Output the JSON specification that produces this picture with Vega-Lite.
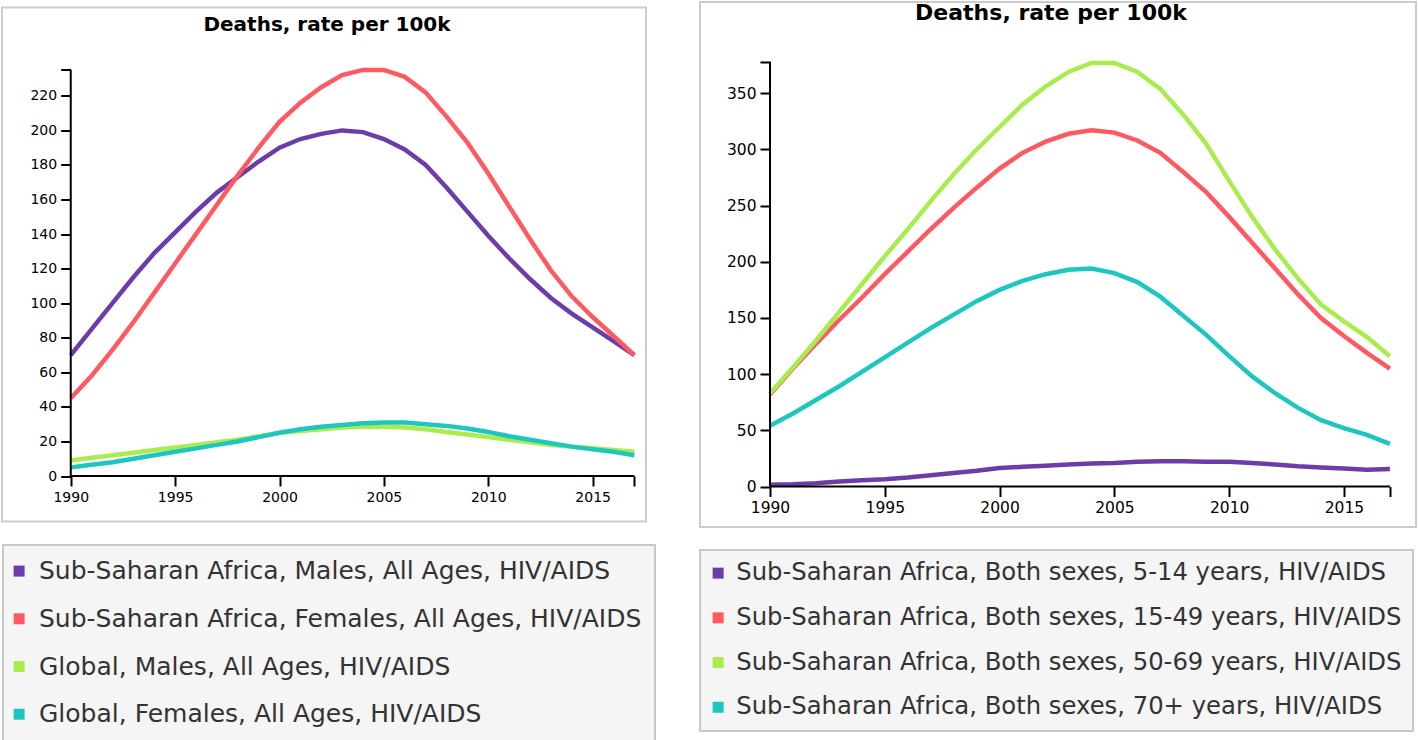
{
 "$schema": "https://vega.github.io/schema/vega-lite/v6.json",
 "autosize": {"type": "pad"},
 "padding": {"left": 1, "top": 1, "right": 0, "bottom": 0},
 "background": "white",
 "bounds": "flush",
 "center": true,
 "spacing": 54,
 "config": {
  "view": {"stroke": "#cccccc", "strokeWidth": 2},
  "axis": {"domain": false, "grid": false, "ticks": true, "tickColor": "#000", "tickWidth": 2, "tickSize": 10, "labelFont": "DejaVu Sans", "labelColor": "#000", "labelPadding": 4},
  "title": {"font": "DejaVu Sans", "fontWeight": "bold", "color": "#000", "anchor": "middle", "baseline": "alphabetic", "offset": 0, "frame": "group"},
  "legend": {"fillColor": "#f5f5f5", "strokeColor": "#c8c8c8", "strokeWidth": 2, "symbolType": "square", "symbolSize": 121, "symbolStrokeWidth": 0, "labelFont": "DejaVu Sans", "labelColor": "#333", "labelLimit": 2000, "direction": "vertical", "orient": "none"}
 },
 "resolve": {"scale": {"color": "independent", "x": "independent", "y": "independent"}, "legend": {"color": "independent"}},
 "datasets": {
  "L": [
   {"yr":1990,"v":70,"s":"Sub-Saharan Africa, Males, All Ages, HIV/AIDS"},{"yr":1991,"v":85,"s":"Sub-Saharan Africa, Males, All Ages, HIV/AIDS"},{"yr":1992,"v":100,"s":"Sub-Saharan Africa, Males, All Ages, HIV/AIDS"},{"yr":1993,"v":115,"s":"Sub-Saharan Africa, Males, All Ages, HIV/AIDS"},{"yr":1994,"v":129,"s":"Sub-Saharan Africa, Males, All Ages, HIV/AIDS"},{"yr":1995,"v":141,"s":"Sub-Saharan Africa, Males, All Ages, HIV/AIDS"},{"yr":1996,"v":153,"s":"Sub-Saharan Africa, Males, All Ages, HIV/AIDS"},{"yr":1997,"v":164,"s":"Sub-Saharan Africa, Males, All Ages, HIV/AIDS"},{"yr":1998,"v":173,"s":"Sub-Saharan Africa, Males, All Ages, HIV/AIDS"},{"yr":1999,"v":182,"s":"Sub-Saharan Africa, Males, All Ages, HIV/AIDS"},{"yr":2000,"v":190,"s":"Sub-Saharan Africa, Males, All Ages, HIV/AIDS"},{"yr":2001,"v":195,"s":"Sub-Saharan Africa, Males, All Ages, HIV/AIDS"},{"yr":2002,"v":198,"s":"Sub-Saharan Africa, Males, All Ages, HIV/AIDS"},{"yr":2003,"v":200,"s":"Sub-Saharan Africa, Males, All Ages, HIV/AIDS"},{"yr":2004,"v":199,"s":"Sub-Saharan Africa, Males, All Ages, HIV/AIDS"},{"yr":2005,"v":195,"s":"Sub-Saharan Africa, Males, All Ages, HIV/AIDS"},{"yr":2006,"v":189,"s":"Sub-Saharan Africa, Males, All Ages, HIV/AIDS"},{"yr":2007,"v":180,"s":"Sub-Saharan Africa, Males, All Ages, HIV/AIDS"},{"yr":2008,"v":167,"s":"Sub-Saharan Africa, Males, All Ages, HIV/AIDS"},{"yr":2009,"v":153,"s":"Sub-Saharan Africa, Males, All Ages, HIV/AIDS"},{"yr":2010,"v":139,"s":"Sub-Saharan Africa, Males, All Ages, HIV/AIDS"},{"yr":2011,"v":126,"s":"Sub-Saharan Africa, Males, All Ages, HIV/AIDS"},{"yr":2012,"v":114,"s":"Sub-Saharan Africa, Males, All Ages, HIV/AIDS"},{"yr":2013,"v":103,"s":"Sub-Saharan Africa, Males, All Ages, HIV/AIDS"},{"yr":2014,"v":94,"s":"Sub-Saharan Africa, Males, All Ages, HIV/AIDS"},{"yr":2015,"v":86,"s":"Sub-Saharan Africa, Males, All Ages, HIV/AIDS"},{"yr":2016,"v":78,"s":"Sub-Saharan Africa, Males, All Ages, HIV/AIDS"},{"yr":2017,"v":70,"s":"Sub-Saharan Africa, Males, All Ages, HIV/AIDS"},
   {"yr":1990,"v":45,"s":"Sub-Saharan Africa, Females, All Ages, HIV/AIDS"},{"yr":1991,"v":58,"s":"Sub-Saharan Africa, Females, All Ages, HIV/AIDS"},{"yr":1992,"v":73,"s":"Sub-Saharan Africa, Females, All Ages, HIV/AIDS"},{"yr":1993,"v":89,"s":"Sub-Saharan Africa, Females, All Ages, HIV/AIDS"},{"yr":1994,"v":106,"s":"Sub-Saharan Africa, Females, All Ages, HIV/AIDS"},{"yr":1995,"v":123,"s":"Sub-Saharan Africa, Females, All Ages, HIV/AIDS"},{"yr":1996,"v":140,"s":"Sub-Saharan Africa, Females, All Ages, HIV/AIDS"},{"yr":1997,"v":157,"s":"Sub-Saharan Africa, Females, All Ages, HIV/AIDS"},{"yr":1998,"v":174,"s":"Sub-Saharan Africa, Females, All Ages, HIV/AIDS"},{"yr":1999,"v":190,"s":"Sub-Saharan Africa, Females, All Ages, HIV/AIDS"},{"yr":2000,"v":205,"s":"Sub-Saharan Africa, Females, All Ages, HIV/AIDS"},{"yr":2001,"v":216,"s":"Sub-Saharan Africa, Females, All Ages, HIV/AIDS"},{"yr":2002,"v":225,"s":"Sub-Saharan Africa, Females, All Ages, HIV/AIDS"},{"yr":2003,"v":232,"s":"Sub-Saharan Africa, Females, All Ages, HIV/AIDS"},{"yr":2004,"v":235,"s":"Sub-Saharan Africa, Females, All Ages, HIV/AIDS"},{"yr":2005,"v":235,"s":"Sub-Saharan Africa, Females, All Ages, HIV/AIDS"},{"yr":2006,"v":231,"s":"Sub-Saharan Africa, Females, All Ages, HIV/AIDS"},{"yr":2007,"v":222,"s":"Sub-Saharan Africa, Females, All Ages, HIV/AIDS"},{"yr":2008,"v":208,"s":"Sub-Saharan Africa, Females, All Ages, HIV/AIDS"},{"yr":2009,"v":193,"s":"Sub-Saharan Africa, Females, All Ages, HIV/AIDS"},{"yr":2010,"v":175,"s":"Sub-Saharan Africa, Females, All Ages, HIV/AIDS"},{"yr":2011,"v":156,"s":"Sub-Saharan Africa, Females, All Ages, HIV/AIDS"},{"yr":2012,"v":137,"s":"Sub-Saharan Africa, Females, All Ages, HIV/AIDS"},{"yr":2013,"v":119,"s":"Sub-Saharan Africa, Females, All Ages, HIV/AIDS"},{"yr":2014,"v":104,"s":"Sub-Saharan Africa, Females, All Ages, HIV/AIDS"},{"yr":2015,"v":92,"s":"Sub-Saharan Africa, Females, All Ages, HIV/AIDS"},{"yr":2016,"v":81,"s":"Sub-Saharan Africa, Females, All Ages, HIV/AIDS"},{"yr":2017,"v":70,"s":"Sub-Saharan Africa, Females, All Ages, HIV/AIDS"},
   {"yr":1990,"v":9,"s":"Global, Males, All Ages, HIV/AIDS"},{"yr":1991,"v":10.5,"s":"Global, Males, All Ages, HIV/AIDS"},{"yr":1992,"v":12,"s":"Global, Males, All Ages, HIV/AIDS"},{"yr":1993,"v":13.5,"s":"Global, Males, All Ages, HIV/AIDS"},{"yr":1994,"v":15,"s":"Global, Males, All Ages, HIV/AIDS"},{"yr":1995,"v":16.5,"s":"Global, Males, All Ages, HIV/AIDS"},{"yr":1996,"v":18,"s":"Global, Males, All Ages, HIV/AIDS"},{"yr":1997,"v":19.5,"s":"Global, Males, All Ages, HIV/AIDS"},{"yr":1998,"v":21,"s":"Global, Males, All Ages, HIV/AIDS"},{"yr":1999,"v":23,"s":"Global, Males, All Ages, HIV/AIDS"},{"yr":2000,"v":25,"s":"Global, Males, All Ages, HIV/AIDS"},{"yr":2001,"v":26,"s":"Global, Males, All Ages, HIV/AIDS"},{"yr":2002,"v":27,"s":"Global, Males, All Ages, HIV/AIDS"},{"yr":2003,"v":28,"s":"Global, Males, All Ages, HIV/AIDS"},{"yr":2004,"v":28.5,"s":"Global, Males, All Ages, HIV/AIDS"},{"yr":2005,"v":28.5,"s":"Global, Males, All Ages, HIV/AIDS"},{"yr":2006,"v":28,"s":"Global, Males, All Ages, HIV/AIDS"},{"yr":2007,"v":27,"s":"Global, Males, All Ages, HIV/AIDS"},{"yr":2008,"v":25.5,"s":"Global, Males, All Ages, HIV/AIDS"},{"yr":2009,"v":24,"s":"Global, Males, All Ages, HIV/AIDS"},{"yr":2010,"v":22.5,"s":"Global, Males, All Ages, HIV/AIDS"},{"yr":2011,"v":21,"s":"Global, Males, All Ages, HIV/AIDS"},{"yr":2012,"v":19.5,"s":"Global, Males, All Ages, HIV/AIDS"},{"yr":2013,"v":18,"s":"Global, Males, All Ages, HIV/AIDS"},{"yr":2014,"v":17,"s":"Global, Males, All Ages, HIV/AIDS"},{"yr":2015,"v":16,"s":"Global, Males, All Ages, HIV/AIDS"},{"yr":2016,"v":15,"s":"Global, Males, All Ages, HIV/AIDS"},{"yr":2017,"v":14,"s":"Global, Males, All Ages, HIV/AIDS"},
   {"yr":1990,"v":5,"s":"Global, Females, All Ages, HIV/AIDS"},{"yr":1991,"v":6.5,"s":"Global, Females, All Ages, HIV/AIDS"},{"yr":1992,"v":8,"s":"Global, Females, All Ages, HIV/AIDS"},{"yr":1993,"v":10,"s":"Global, Females, All Ages, HIV/AIDS"},{"yr":1994,"v":12,"s":"Global, Females, All Ages, HIV/AIDS"},{"yr":1995,"v":14,"s":"Global, Females, All Ages, HIV/AIDS"},{"yr":1996,"v":16,"s":"Global, Females, All Ages, HIV/AIDS"},{"yr":1997,"v":18,"s":"Global, Females, All Ages, HIV/AIDS"},{"yr":1998,"v":20,"s":"Global, Females, All Ages, HIV/AIDS"},{"yr":1999,"v":22.5,"s":"Global, Females, All Ages, HIV/AIDS"},{"yr":2000,"v":25,"s":"Global, Females, All Ages, HIV/AIDS"},{"yr":2001,"v":27,"s":"Global, Females, All Ages, HIV/AIDS"},{"yr":2002,"v":28.5,"s":"Global, Females, All Ages, HIV/AIDS"},{"yr":2003,"v":29.5,"s":"Global, Females, All Ages, HIV/AIDS"},{"yr":2004,"v":30.5,"s":"Global, Females, All Ages, HIV/AIDS"},{"yr":2005,"v":31,"s":"Global, Females, All Ages, HIV/AIDS"},{"yr":2006,"v":31,"s":"Global, Females, All Ages, HIV/AIDS"},{"yr":2007,"v":30,"s":"Global, Females, All Ages, HIV/AIDS"},{"yr":2008,"v":29,"s":"Global, Females, All Ages, HIV/AIDS"},{"yr":2009,"v":27.5,"s":"Global, Females, All Ages, HIV/AIDS"},{"yr":2010,"v":25.5,"s":"Global, Females, All Ages, HIV/AIDS"},{"yr":2011,"v":23,"s":"Global, Females, All Ages, HIV/AIDS"},{"yr":2012,"v":21,"s":"Global, Females, All Ages, HIV/AIDS"},{"yr":2013,"v":19,"s":"Global, Females, All Ages, HIV/AIDS"},{"yr":2014,"v":17,"s":"Global, Females, All Ages, HIV/AIDS"},{"yr":2015,"v":15.5,"s":"Global, Females, All Ages, HIV/AIDS"},{"yr":2016,"v":14,"s":"Global, Females, All Ages, HIV/AIDS"},{"yr":2017,"v":12,"s":"Global, Females, All Ages, HIV/AIDS"}
  ],
  "R": [
   {"yr":1990,"v":1.5,"s":"Sub-Saharan Africa, Both sexes, 5-14 years, HIV/AIDS"},{"yr":1991,"v":2,"s":"Sub-Saharan Africa, Both sexes, 5-14 years, HIV/AIDS"},{"yr":1992,"v":3,"s":"Sub-Saharan Africa, Both sexes, 5-14 years, HIV/AIDS"},{"yr":1993,"v":4.5,"s":"Sub-Saharan Africa, Both sexes, 5-14 years, HIV/AIDS"},{"yr":1994,"v":5.5,"s":"Sub-Saharan Africa, Both sexes, 5-14 years, HIV/AIDS"},{"yr":1995,"v":6.5,"s":"Sub-Saharan Africa, Both sexes, 5-14 years, HIV/AIDS"},{"yr":1996,"v":8,"s":"Sub-Saharan Africa, Both sexes, 5-14 years, HIV/AIDS"},{"yr":1997,"v":10,"s":"Sub-Saharan Africa, Both sexes, 5-14 years, HIV/AIDS"},{"yr":1998,"v":12,"s":"Sub-Saharan Africa, Both sexes, 5-14 years, HIV/AIDS"},{"yr":1999,"v":14,"s":"Sub-Saharan Africa, Both sexes, 5-14 years, HIV/AIDS"},{"yr":2000,"v":16.5,"s":"Sub-Saharan Africa, Both sexes, 5-14 years, HIV/AIDS"},{"yr":2001,"v":17.5,"s":"Sub-Saharan Africa, Both sexes, 5-14 years, HIV/AIDS"},{"yr":2002,"v":18.5,"s":"Sub-Saharan Africa, Both sexes, 5-14 years, HIV/AIDS"},{"yr":2003,"v":19.5,"s":"Sub-Saharan Africa, Both sexes, 5-14 years, HIV/AIDS"},{"yr":2004,"v":20.5,"s":"Sub-Saharan Africa, Both sexes, 5-14 years, HIV/AIDS"},{"yr":2005,"v":21,"s":"Sub-Saharan Africa, Both sexes, 5-14 years, HIV/AIDS"},{"yr":2006,"v":22,"s":"Sub-Saharan Africa, Both sexes, 5-14 years, HIV/AIDS"},{"yr":2007,"v":22.5,"s":"Sub-Saharan Africa, Both sexes, 5-14 years, HIV/AIDS"},{"yr":2008,"v":22.5,"s":"Sub-Saharan Africa, Both sexes, 5-14 years, HIV/AIDS"},{"yr":2009,"v":22,"s":"Sub-Saharan Africa, Both sexes, 5-14 years, HIV/AIDS"},{"yr":2010,"v":22,"s":"Sub-Saharan Africa, Both sexes, 5-14 years, HIV/AIDS"},{"yr":2011,"v":21,"s":"Sub-Saharan Africa, Both sexes, 5-14 years, HIV/AIDS"},{"yr":2012,"v":19.5,"s":"Sub-Saharan Africa, Both sexes, 5-14 years, HIV/AIDS"},{"yr":2013,"v":18,"s":"Sub-Saharan Africa, Both sexes, 5-14 years, HIV/AIDS"},{"yr":2014,"v":17,"s":"Sub-Saharan Africa, Both sexes, 5-14 years, HIV/AIDS"},{"yr":2015,"v":16,"s":"Sub-Saharan Africa, Both sexes, 5-14 years, HIV/AIDS"},{"yr":2016,"v":15,"s":"Sub-Saharan Africa, Both sexes, 5-14 years, HIV/AIDS"},{"yr":2017,"v":15.5,"s":"Sub-Saharan Africa, Both sexes, 5-14 years, HIV/AIDS"},
   {"yr":1990,"v":82,"s":"Sub-Saharan Africa, Both sexes, 15-49 years, HIV/AIDS"},{"yr":1991,"v":105,"s":"Sub-Saharan Africa, Both sexes, 15-49 years, HIV/AIDS"},{"yr":1992,"v":127,"s":"Sub-Saharan Africa, Both sexes, 15-49 years, HIV/AIDS"},{"yr":1993,"v":148,"s":"Sub-Saharan Africa, Both sexes, 15-49 years, HIV/AIDS"},{"yr":1994,"v":168,"s":"Sub-Saharan Africa, Both sexes, 15-49 years, HIV/AIDS"},{"yr":1995,"v":189,"s":"Sub-Saharan Africa, Both sexes, 15-49 years, HIV/AIDS"},{"yr":1996,"v":209,"s":"Sub-Saharan Africa, Both sexes, 15-49 years, HIV/AIDS"},{"yr":1997,"v":229,"s":"Sub-Saharan Africa, Both sexes, 15-49 years, HIV/AIDS"},{"yr":1998,"v":248,"s":"Sub-Saharan Africa, Both sexes, 15-49 years, HIV/AIDS"},{"yr":1999,"v":266,"s":"Sub-Saharan Africa, Both sexes, 15-49 years, HIV/AIDS"},{"yr":2000,"v":283,"s":"Sub-Saharan Africa, Both sexes, 15-49 years, HIV/AIDS"},{"yr":2001,"v":297,"s":"Sub-Saharan Africa, Both sexes, 15-49 years, HIV/AIDS"},{"yr":2002,"v":307,"s":"Sub-Saharan Africa, Both sexes, 15-49 years, HIV/AIDS"},{"yr":2003,"v":314,"s":"Sub-Saharan Africa, Both sexes, 15-49 years, HIV/AIDS"},{"yr":2004,"v":317,"s":"Sub-Saharan Africa, Both sexes, 15-49 years, HIV/AIDS"},{"yr":2005,"v":315,"s":"Sub-Saharan Africa, Both sexes, 15-49 years, HIV/AIDS"},{"yr":2006,"v":308,"s":"Sub-Saharan Africa, Both sexes, 15-49 years, HIV/AIDS"},{"yr":2007,"v":297,"s":"Sub-Saharan Africa, Both sexes, 15-49 years, HIV/AIDS"},{"yr":2008,"v":280,"s":"Sub-Saharan Africa, Both sexes, 15-49 years, HIV/AIDS"},{"yr":2009,"v":262,"s":"Sub-Saharan Africa, Both sexes, 15-49 years, HIV/AIDS"},{"yr":2010,"v":240,"s":"Sub-Saharan Africa, Both sexes, 15-49 years, HIV/AIDS"},{"yr":2011,"v":217,"s":"Sub-Saharan Africa, Both sexes, 15-49 years, HIV/AIDS"},{"yr":2012,"v":194,"s":"Sub-Saharan Africa, Both sexes, 15-49 years, HIV/AIDS"},{"yr":2013,"v":171,"s":"Sub-Saharan Africa, Both sexes, 15-49 years, HIV/AIDS"},{"yr":2014,"v":150,"s":"Sub-Saharan Africa, Both sexes, 15-49 years, HIV/AIDS"},{"yr":2015,"v":134,"s":"Sub-Saharan Africa, Both sexes, 15-49 years, HIV/AIDS"},{"yr":2016,"v":119,"s":"Sub-Saharan Africa, Both sexes, 15-49 years, HIV/AIDS"},{"yr":2017,"v":105,"s":"Sub-Saharan Africa, Both sexes, 15-49 years, HIV/AIDS"},
   {"yr":1990,"v":83,"s":"Sub-Saharan Africa, Both sexes, 50-69 years, HIV/AIDS"},{"yr":1991,"v":106,"s":"Sub-Saharan Africa, Both sexes, 50-69 years, HIV/AIDS"},{"yr":1992,"v":130,"s":"Sub-Saharan Africa, Both sexes, 50-69 years, HIV/AIDS"},{"yr":1993,"v":155,"s":"Sub-Saharan Africa, Both sexes, 50-69 years, HIV/AIDS"},{"yr":1994,"v":180,"s":"Sub-Saharan Africa, Both sexes, 50-69 years, HIV/AIDS"},{"yr":1995,"v":205,"s":"Sub-Saharan Africa, Both sexes, 50-69 years, HIV/AIDS"},{"yr":1996,"v":229,"s":"Sub-Saharan Africa, Both sexes, 50-69 years, HIV/AIDS"},{"yr":1997,"v":254,"s":"Sub-Saharan Africa, Both sexes, 50-69 years, HIV/AIDS"},{"yr":1998,"v":278,"s":"Sub-Saharan Africa, Both sexes, 50-69 years, HIV/AIDS"},{"yr":1999,"v":300,"s":"Sub-Saharan Africa, Both sexes, 50-69 years, HIV/AIDS"},{"yr":2000,"v":320,"s":"Sub-Saharan Africa, Both sexes, 50-69 years, HIV/AIDS"},{"yr":2001,"v":340,"s":"Sub-Saharan Africa, Both sexes, 50-69 years, HIV/AIDS"},{"yr":2002,"v":356,"s":"Sub-Saharan Africa, Both sexes, 50-69 years, HIV/AIDS"},{"yr":2003,"v":369,"s":"Sub-Saharan Africa, Both sexes, 50-69 years, HIV/AIDS"},{"yr":2004,"v":377,"s":"Sub-Saharan Africa, Both sexes, 50-69 years, HIV/AIDS"},{"yr":2005,"v":377,"s":"Sub-Saharan Africa, Both sexes, 50-69 years, HIV/AIDS"},{"yr":2006,"v":369,"s":"Sub-Saharan Africa, Both sexes, 50-69 years, HIV/AIDS"},{"yr":2007,"v":354,"s":"Sub-Saharan Africa, Both sexes, 50-69 years, HIV/AIDS"},{"yr":2008,"v":331,"s":"Sub-Saharan Africa, Both sexes, 50-69 years, HIV/AIDS"},{"yr":2009,"v":305,"s":"Sub-Saharan Africa, Both sexes, 50-69 years, HIV/AIDS"},{"yr":2010,"v":272,"s":"Sub-Saharan Africa, Both sexes, 50-69 years, HIV/AIDS"},{"yr":2011,"v":240,"s":"Sub-Saharan Africa, Both sexes, 50-69 years, HIV/AIDS"},{"yr":2012,"v":211,"s":"Sub-Saharan Africa, Both sexes, 50-69 years, HIV/AIDS"},{"yr":2013,"v":185,"s":"Sub-Saharan Africa, Both sexes, 50-69 years, HIV/AIDS"},{"yr":2014,"v":162,"s":"Sub-Saharan Africa, Both sexes, 50-69 years, HIV/AIDS"},{"yr":2015,"v":147,"s":"Sub-Saharan Africa, Both sexes, 50-69 years, HIV/AIDS"},{"yr":2016,"v":133,"s":"Sub-Saharan Africa, Both sexes, 50-69 years, HIV/AIDS"},{"yr":2017,"v":116,"s":"Sub-Saharan Africa, Both sexes, 50-69 years, HIV/AIDS"},
   {"yr":1990,"v":54,"s":"Sub-Saharan Africa, Both sexes, 70+ years, HIV/AIDS"},{"yr":1991,"v":65,"s":"Sub-Saharan Africa, Both sexes, 70+ years, HIV/AIDS"},{"yr":1992,"v":77,"s":"Sub-Saharan Africa, Both sexes, 70+ years, HIV/AIDS"},{"yr":1993,"v":89,"s":"Sub-Saharan Africa, Both sexes, 70+ years, HIV/AIDS"},{"yr":1994,"v":102,"s":"Sub-Saharan Africa, Both sexes, 70+ years, HIV/AIDS"},{"yr":1995,"v":115,"s":"Sub-Saharan Africa, Both sexes, 70+ years, HIV/AIDS"},{"yr":1996,"v":128,"s":"Sub-Saharan Africa, Both sexes, 70+ years, HIV/AIDS"},{"yr":1997,"v":141,"s":"Sub-Saharan Africa, Both sexes, 70+ years, HIV/AIDS"},{"yr":1998,"v":153,"s":"Sub-Saharan Africa, Both sexes, 70+ years, HIV/AIDS"},{"yr":1999,"v":165,"s":"Sub-Saharan Africa, Both sexes, 70+ years, HIV/AIDS"},{"yr":2000,"v":175,"s":"Sub-Saharan Africa, Both sexes, 70+ years, HIV/AIDS"},{"yr":2001,"v":183,"s":"Sub-Saharan Africa, Both sexes, 70+ years, HIV/AIDS"},{"yr":2002,"v":189,"s":"Sub-Saharan Africa, Both sexes, 70+ years, HIV/AIDS"},{"yr":2003,"v":193,"s":"Sub-Saharan Africa, Both sexes, 70+ years, HIV/AIDS"},{"yr":2004,"v":194,"s":"Sub-Saharan Africa, Both sexes, 70+ years, HIV/AIDS"},{"yr":2005,"v":190,"s":"Sub-Saharan Africa, Both sexes, 70+ years, HIV/AIDS"},{"yr":2006,"v":182,"s":"Sub-Saharan Africa, Both sexes, 70+ years, HIV/AIDS"},{"yr":2007,"v":169,"s":"Sub-Saharan Africa, Both sexes, 70+ years, HIV/AIDS"},{"yr":2008,"v":152,"s":"Sub-Saharan Africa, Both sexes, 70+ years, HIV/AIDS"},{"yr":2009,"v":135,"s":"Sub-Saharan Africa, Both sexes, 70+ years, HIV/AIDS"},{"yr":2010,"v":116,"s":"Sub-Saharan Africa, Both sexes, 70+ years, HIV/AIDS"},{"yr":2011,"v":98,"s":"Sub-Saharan Africa, Both sexes, 70+ years, HIV/AIDS"},{"yr":2012,"v":83,"s":"Sub-Saharan Africa, Both sexes, 70+ years, HIV/AIDS"},{"yr":2013,"v":70,"s":"Sub-Saharan Africa, Both sexes, 70+ years, HIV/AIDS"},{"yr":2014,"v":59,"s":"Sub-Saharan Africa, Both sexes, 70+ years, HIV/AIDS"},{"yr":2015,"v":52,"s":"Sub-Saharan Africa, Both sexes, 70+ years, HIV/AIDS"},{"yr":2016,"v":46,"s":"Sub-Saharan Africa, Both sexes, 70+ years, HIV/AIDS"},{"yr":2017,"v":38,"s":"Sub-Saharan Africa, Both sexes, 70+ years, HIV/AIDS"}
  ]
 },
 "hconcat": [
  {
   "width": 644,
   "height": 514,
   "title": {"text": "Deaths, rate per 100k", "fontSize": 20, "dy": 31, "dx": 3},
   "layer": [
    {
     "data": {"name": "L"},
     "mark": {"type": "line", "strokeWidth": 4.5},
     "encoding": {
      "x": {"field": "yr", "type": "quantitative", "scale": {"domain": [1986.707, 2017.556], "nice": false, "zero": false}, "axis": {"title": null, "offset": -45.5, "values": [1990, 1995, 2000, 2005, 2010, 2015, 2017], "format": "d", "labelExpr": "datum.value == 2017 ? '' : datum.label", "labelFontSize": 14, "labelFlush": false}},
      "y": {"field": "v", "type": "quantitative", "scale": {"domain": [-26.33, 271.12], "nice": false, "zero": false}, "axis": {"title": null, "offset": -68.7, "values": [0, 20, 40, 60, 80, 100, 120, 140, 160, 180, 200, 220, 235], "labelExpr": "datum.value == 235 ? '' : datum.label", "labelFontSize": 14}},
      "color": {"field": "s", "type": "nominal", "scale": {"domain": ["Sub-Saharan Africa, Males, All Ages, HIV/AIDS", "Sub-Saharan Africa, Females, All Ages, HIV/AIDS", "Global, Males, All Ages, HIV/AIDS", "Global, Females, All Ages, HIV/AIDS"], "range": ["#6a3da8", "#ff5a62", "#a8ec4e", "#1fc6c0"]},
       "legend": {"title": null, "orient": "none", "legendX": 1, "legendY": 537.5, "padding": 13.6, "rowPadding": 21.7, "labelOffset": 7.4, "symbolOffset": -10, "labelFontSize": 25,
        "encode": {"symbols": {"update": {"fill": {"signal": "['#6a3da8', '#ff5a62', '#a8ec4e', '#1fc6c0'][datum.index]"}, "fillOpacity": {"value": 1}, "strokeWidth": {"value": 0}}}}}}
     }
    },
    {
     "data": {"values": [{}]},
     "mark": {"type": "rule", "color": "#000", "strokeWidth": 2},
     "encoding": {"x": {"datum": 1990, "type": "quantitative"}, "x2": {"datum": 2017}, "y": {"datum": 0, "type": "quantitative"}}
    },
    {
     "data": {"values": [{}]},
     "mark": {"type": "rule", "color": "#000", "strokeWidth": 2},
     "encoding": {"x": {"datum": 1990, "type": "quantitative"}, "y": {"datum": 0, "type": "quantitative"}, "y2": {"datum": 235}}
    }
   ]
  },
  {
   "width": 716,
   "height": 525,
   "title": {"text": "Deaths, rate per 100k", "fontSize": 22, "dy": 27, "dx": -7},
   "layer": [
    {
     "data": {"name": "R"},
     "mark": {"type": "line", "strokeWidth": 4.5},
     "encoding": {
      "x": {"field": "yr", "type": "quantitative", "scale": {"domain": [1986.951, 2018.137], "nice": false, "zero": false}, "axis": {"title": null, "offset": -40.5, "values": [1990, 1995, 2000, 2005, 2010, 2015, 2017], "format": "d", "labelExpr": "datum.value == 2017 ? '' : datum.label", "labelFontSize": 15.5, "labelFlush": false}},
      "y": {"field": "v", "type": "quantitative", "scale": {"domain": [-36.05, 431.28], "nice": false, "zero": false}, "axis": {"title": null, "offset": -70, "values": [0, 50, 100, 150, 200, 250, 300, 350, 378], "labelExpr": "datum.value == 378 ? '' : datum.label", "labelFontSize": 15.5}},
      "color": {"field": "s", "type": "nominal", "scale": {"domain": ["Sub-Saharan Africa, Both sexes, 5-14 years, HIV/AIDS", "Sub-Saharan Africa, Both sexes, 15-49 years, HIV/AIDS", "Sub-Saharan Africa, Both sexes, 50-69 years, HIV/AIDS", "Sub-Saharan Africa, Both sexes, 70+ years, HIV/AIDS"], "range": ["#6a3da8", "#ff5a62", "#a8ec4e", "#1fc6c0"]},
       "legend": {"title": null, "orient": "none", "legendX": 0, "legendY": 548, "padding": 11, "rowPadding": 19.7, "labelOffset": 6, "symbolOffset": -5, "labelFontSize": 24.3,
        "encode": {"symbols": {"update": {"fill": {"signal": "['#6a3da8', '#ff5a62', '#a8ec4e', '#1fc6c0'][datum.index]"}, "fillOpacity": {"value": 1}, "strokeWidth": {"value": 0}}}}}}
     }
    },
    {
     "data": {"values": [{}]},
     "mark": {"type": "rule", "color": "#000", "strokeWidth": 2},
     "encoding": {"x": {"datum": 1990, "type": "quantitative"}, "x2": {"datum": 2017}, "y": {"datum": 0, "type": "quantitative"}}
    },
    {
     "data": {"values": [{}]},
     "mark": {"type": "rule", "color": "#000", "strokeWidth": 2},
     "encoding": {"x": {"datum": 1990, "type": "quantitative"}, "y": {"datum": 0, "type": "quantitative"}, "y2": {"datum": 378}}
    }
   ]
  }
 ]
}
